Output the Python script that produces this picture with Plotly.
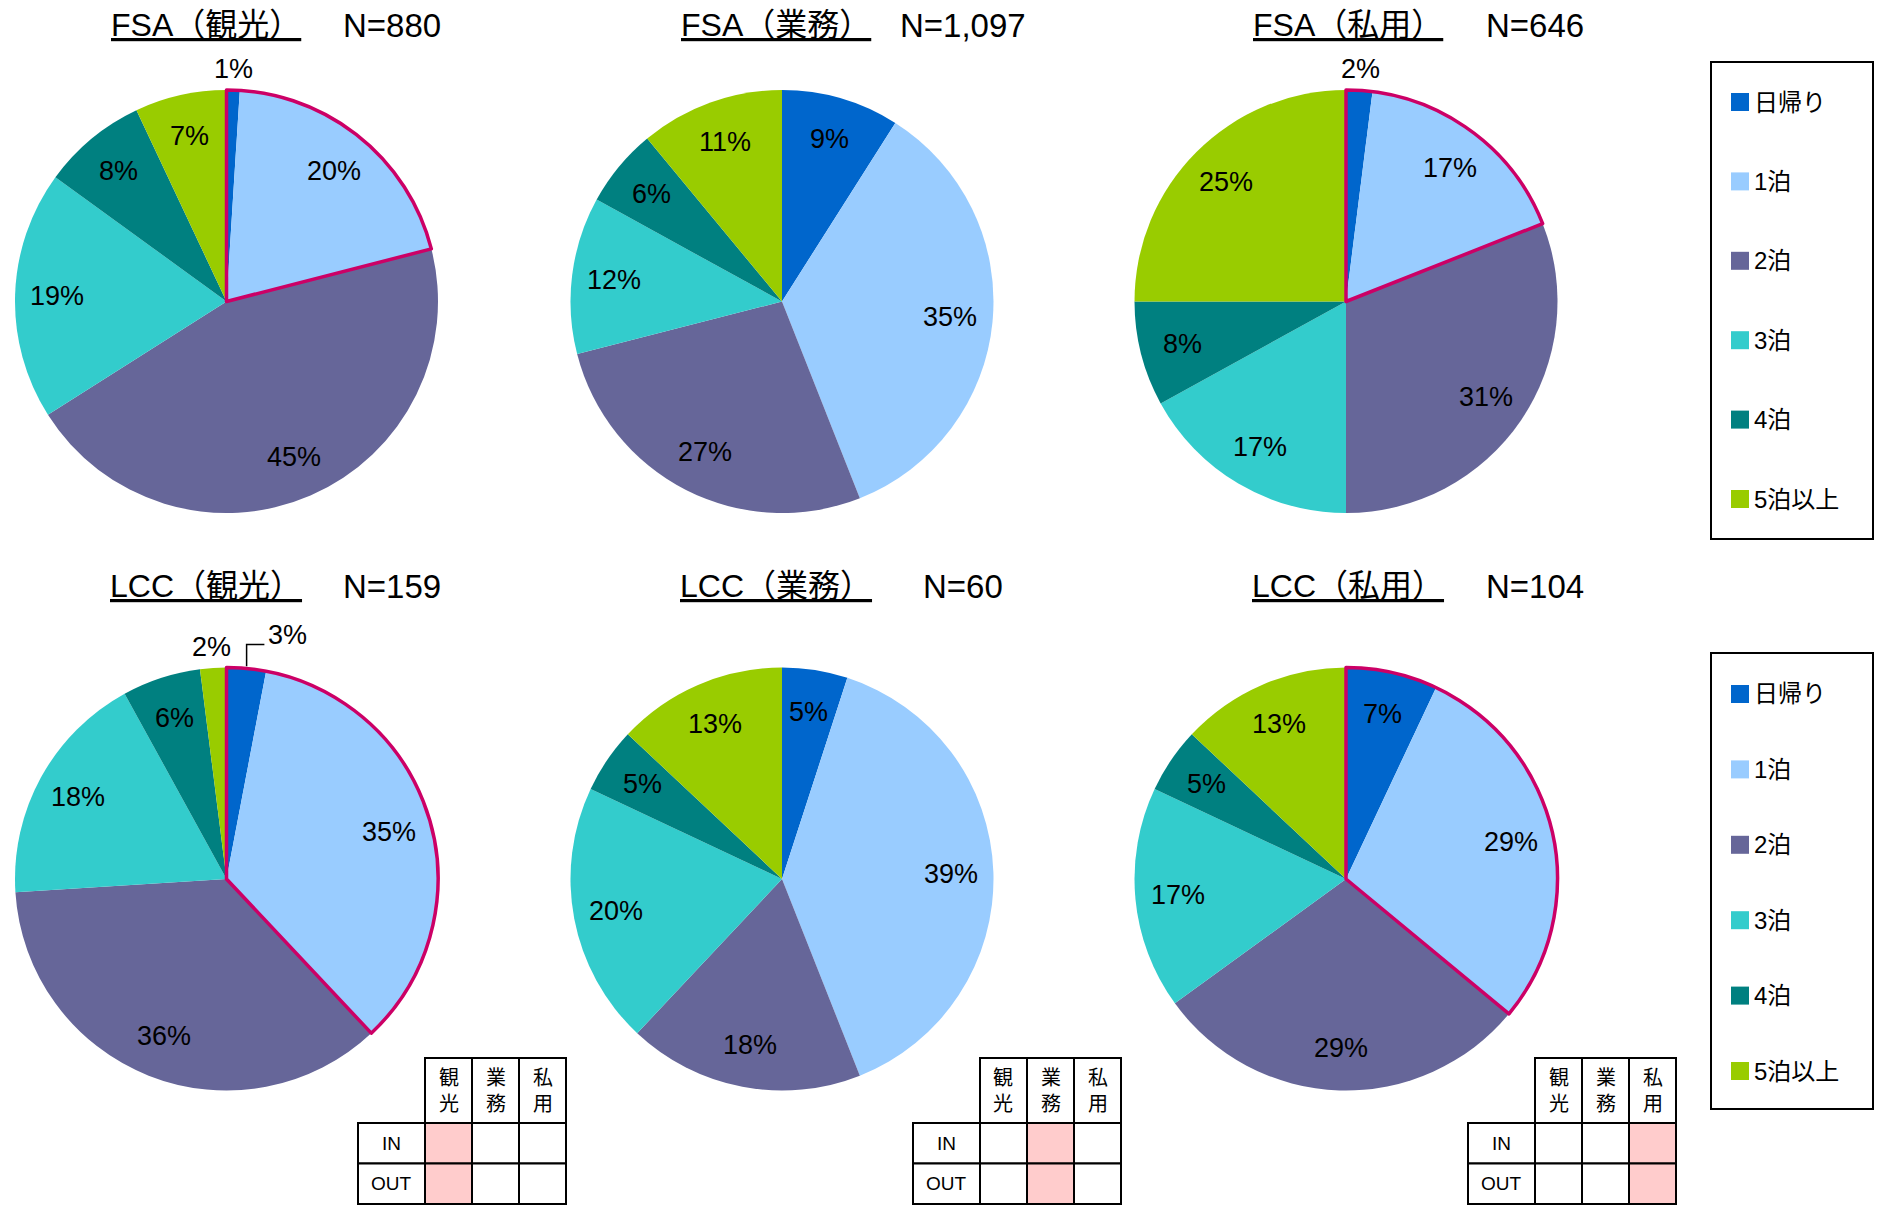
import math
import plotly.graph_objects as go

# ---------------- data ----------------
categories = ["日帰り", "1泊", "2泊", "3泊", "4泊", "5泊以上"]
colors = ["#0066CC", "#99CCFF", "#666699", "#33CCCC", "#008080", "#99CC00"]

chart_titles = ["FSA（観光）", "FSA（業務）", "FSA（私用）",
                "LCC（観光）", "LCC（業務）", "LCC（私用）"]
sample_sizes = ["N=880", "N=1,097", "N=646", "N=159", "N=60", "N=104"]

fsa_kanko = [1, 20, 45, 19, 8, 7]
fsa_gyomu = [9, 35, 27, 12, 6, 11]
fsa_shiyo = [2, 17, 31, 17, 8, 25]
lcc_kanko = [3, 35, 36, 18, 6, 2]
lcc_gyomu = [5, 39, 18, 20, 5, 13]
lcc_shiyo = [7, 29, 29, 17, 5, 13]
series = [fsa_kanko, fsa_gyomu, fsa_shiyo, lcc_kanko, lcc_gyomu, lcc_shiyo]

# slices enclosed by the magenta outline, per chart
highlighted = [[0, 1], [], [0, 1], [0, 1], [], [0, 1]]

# small IN/OUT tables under the lower row
purposes = ["観光", "業務", "私用"]
directions = ["IN", "OUT"]
table_selected = [0, 1, 2]

# ---------------- layout constants ----------------
W, H = 1877, 1205
PIE_CX = [226.5, 782, 1346]
PIE_CY = [301.5, 879]
R = 211.5
TITLE_CX = [205.5, 776, 1348]
N_CX = [392, 963, 1535]
TITLE_Y = [25, 586]
MAGENTA = "#CC0066"
FONT = "Liberation Sans, Arial, Noto Sans CJK JP, sans-serif"
LABEL_SIZE = 27


def px(x):
    return x / W


def py(y):
    return 1 - y / H


fig = go.Figure()
annotations = []
shapes = []

# special call-out for crowded small labels: (chart, slice) -> pixel shift
callout_shift = {(3, 0): (39, -12)}

for k, vals in enumerate(series):
    col, row = k % 3, k // 3
    cx, cy = PIE_CX[col], PIE_CY[row]
    dom = dict(x=[px(cx - R), px(cx + R)], y=[py(cy + R), py(cy - R)])
    fig.add_trace(go.Pie(
        values=vals, labels=categories, sort=False, direction="clockwise",
        rotation=0, marker=dict(colors=colors, line=dict(width=0)),
        textinfo="none", hoverinfo="label+percent", showlegend=False,
        domain=dom,
    ))
    hl = highlighted[k]
    if hl:
        s_in = sum(vals[i] for i in hl)
        s_out = sum(vals) - s_in
        fig.add_trace(go.Pie(
            values=[s_in, s_out], sort=False, direction="clockwise", rotation=0,
            marker=dict(colors=["rgba(0,0,0,0)", "rgba(0,0,0,0)"],
                        line=dict(color=[MAGENTA, "rgba(0,0,0,0)"], width=[3.5, 0])),
            textinfo="none", hoverinfo="skip", showlegend=False, domain=dom,
        ))
    # labels
    total = sum(vals)
    cum = 0
    for i, v in enumerate(vals):
        mid = math.radians((cum + v / 2) / total * 360)
        cum += v
        r = 0.8 * R if v >= 4 else 1.1 * R
        x = cx + r * math.sin(mid)
        y = cy - r * math.cos(mid)
        if (k, i) in callout_shift:
            dx, dy = callout_shift[(k, i)]
            x0 = cx + 1.01 * R * math.sin(mid)
            y0 = cy - 1.01 * R * math.cos(mid)
            x += dx
            y += dy
            yl = y + 9
            xl = x - 23
            shapes.append(dict(type="path", xref="paper", yref="paper",
                               path=f"M {px(x0)},{py(y0)} L {px(x0)},{py(yl)} L {px(xl)},{py(yl)}",
                               line=dict(color="black", width=1.5)))
        annotations.append(dict(x=px(x), y=py(y), xref="paper", yref="paper",
                                text=f"{v}%", showarrow=False,
                                font=dict(size=LABEL_SIZE, color="black", family=FONT),
                                xanchor="center", yanchor="middle"))
    # titles
    annotations.append(dict(x=px(TITLE_CX[col]), y=py(TITLE_Y[row]), xref="paper", yref="paper",
                            text=chart_titles[k], showarrow=False,
                            font=dict(size=32, color="black", family=FONT, lineposition="under"),
                            xanchor="center", yanchor="middle"))
    annotations.append(dict(x=px(N_CX[col]), y=py(TITLE_Y[row]), xref="paper", yref="paper",
                            text=sample_sizes[k], showarrow=False,
                            font=dict(size=33, color="black", family=FONT),
                            xanchor="center", yanchor="middle"))

# ---------------- legends (one per row) ----------------
LEG_BOX = [(1711, 62, 1873, 539), (1711, 653, 1873, 1109)]
LEG_Y0 = [102, 694]
LEG_STEP = [79.4, 75.4]
for b, (x0, y0, x1, y1) in enumerate(LEG_BOX):
    shapes.append(dict(type="rect", xref="paper", yref="paper",
                       x0=px(x0), x1=px(x1), y0=py(y1), y1=py(y0),
                       line=dict(color="black", width=2), fillcolor="rgba(0,0,0,0)"))
    for i, (cat, c) in enumerate(zip(categories, colors)):
        yc = LEG_Y0[b] + i * LEG_STEP[b]
        shapes.append(dict(type="rect", xref="paper", yref="paper",
                           x0=px(1731), x1=px(1749), y0=py(yc + 9), y1=py(yc - 9),
                           line=dict(width=0), fillcolor=c))
        annotations.append(dict(x=px(1752), y=py(yc), xref="paper", yref="paper",
                                text=cat, showarrow=False, xanchor="left", yanchor="middle",
                                font=dict(size=24, color="black", family=FONT)))

# ---------------- IN/OUT tables ----------------
TABLE_LEFT = [358, 913, 1468]
LAB_W = 67
CELL_W = 47
HEAD_TOP = 1058
HEAD_H = 65
ROW_H = 40.5
PINK = "#FFCCCC"
for t, left in enumerate(TABLE_LEFT):
    for j, p in enumerate(purposes):
        xa = left + LAB_W + j * CELL_W
        shapes.append(dict(type="rect", xref="paper", yref="paper",
                           x0=px(xa), x1=px(xa + CELL_W), y0=py(HEAD_TOP + HEAD_H), y1=py(HEAD_TOP),
                           line=dict(color="black", width=2), fillcolor="white"))
        annotations.append(dict(x=px(xa + CELL_W / 2), y=py(HEAD_TOP + HEAD_H / 2),
                                xref="paper", yref="paper", text="<br>".join(p), showarrow=False,
                                xanchor="center", yanchor="middle",
                                font=dict(size=20, color="black", family=FONT)))
    for r_i, d in enumerate(directions):
        ya = HEAD_TOP + HEAD_H + r_i * ROW_H
        shapes.append(dict(type="rect", xref="paper", yref="paper",
                           x0=px(left), x1=px(left + LAB_W), y0=py(ya + ROW_H), y1=py(ya),
                           line=dict(color="black", width=2), fillcolor="white"))
        annotations.append(dict(x=px(left + LAB_W / 2), y=py(ya + ROW_H / 2),
                                xref="paper", yref="paper", text=d, showarrow=False,
                                xanchor="center", yanchor="middle",
                                font=dict(size=19, color="black", family=FONT)))
        for j in range(len(purposes)):
            xa = left + LAB_W + j * CELL_W
            shapes.append(dict(type="rect", xref="paper", yref="paper",
                               x0=px(xa), x1=px(xa + CELL_W), y0=py(ya + ROW_H), y1=py(ya),
                               line=dict(color="black", width=2),
                               fillcolor=PINK if j == table_selected[t] else "white"))

fig.update_layout(
    width=W, height=H, autosize=False,
    margin=dict(l=0, r=0, t=0, b=0),
    paper_bgcolor="white", plot_bgcolor="white",
    annotations=annotations, shapes=shapes,
    font=dict(family=FONT),
)

fig.write_html("out.html", config={"displayModeBar": False},
               post_script="document.body.style.margin='0';document.body.style.overflow='hidden';")
